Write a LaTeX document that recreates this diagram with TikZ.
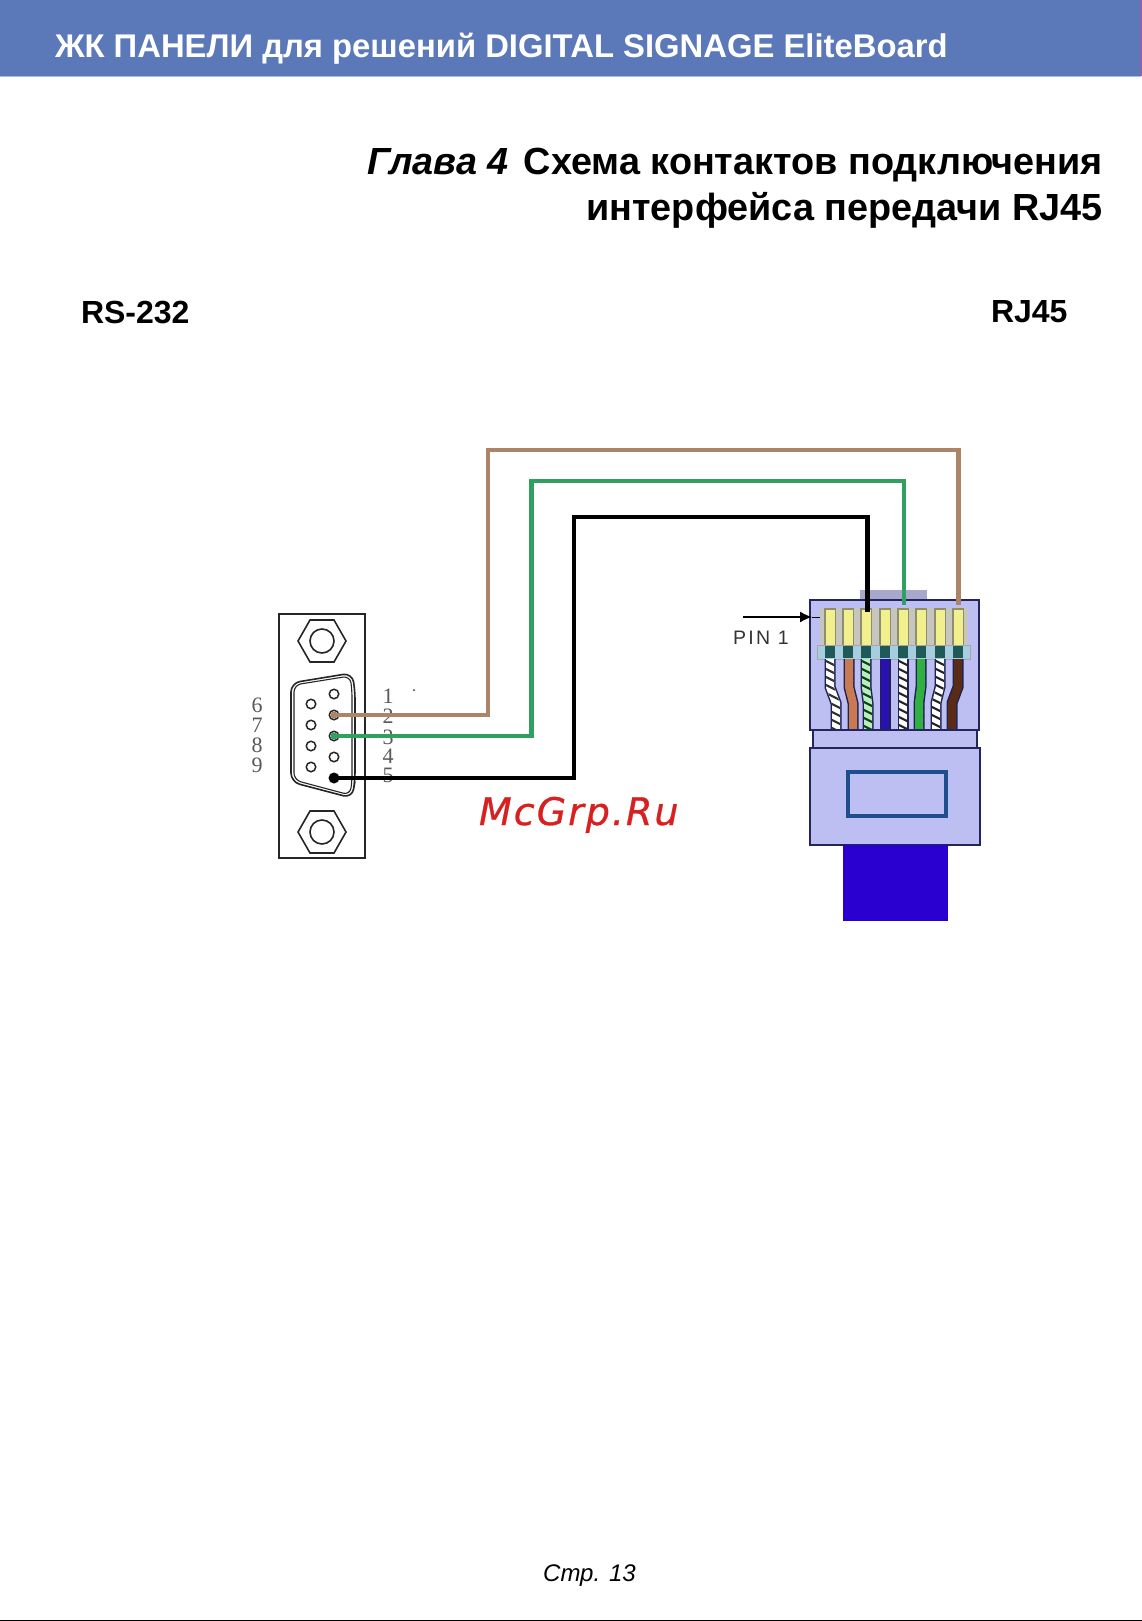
\documentclass[tikz,border=0pt]{standalone}
\usepackage{fontspec}
\setmainfont{Liberation Sans}
\newfontfamily\serifdigits{Liberation Serif}
\newfontfamily\wmfont[LetterSpace=5.3,FakeBold=0.7]{DejaVu Sans}
\newfontfamily\pinfont[LetterSpace=12]{Liberation Sans}
\usetikzlibrary{arrows.meta}
\definecolor{barblue}{HTML}{5B78B8}
\definecolor{wbrown}{HTML}{AC8468}
\definecolor{wgreen}{HTML}{2FA060}
\definecolor{plugfill}{HTML}{BDBFF2}
\definecolor{plugline}{HTML}{23265E}
\definecolor{windowline}{HTML}{1F4E8C}
\definecolor{cablefill}{HTML}{2A00D0}
\definecolor{pinyellow}{HTML}{F2F08C}
\definecolor{pinedge}{HTML}{8E8E6C}
\definecolor{pinback}{HTML}{C6C6BE}
\definecolor{bandblue}{HTML}{A8CCE0}
\definecolor{banddark}{HTML}{1E5A58}
\definecolor{orangew}{HTML}{C87A50}
\definecolor{bluew}{HTML}{2A10B0}
\definecolor{greenw}{HTML}{30B040}
\definecolor{brownw}{HTML}{5A2C18}
\definecolor{greenstripe}{HTML}{BFE8C8}
\definecolor{markred}{HTML}{D82020}
\tikzset{
  txt/.style={inner sep=0pt,outer sep=0pt,text=black},
  digit/.style={inner sep=0pt,font=\serifdigits\fontsize{22}{22}\selectfont,text=black!65},
  hole/.style={circle,draw=black!85,line width=1.5pt,fill=white,minimum size=9.5pt,inner sep=0pt},
  wire/.style={line width=4.5pt,line join=miter},
  conn/.style={draw=black!85,line width=1.6pt},
}
% centre top, centre bottom, body colour, stripe colour
\newcommand{\plugwire}[4]{%
  \draw[line width=11pt,plugline!90!black] (#1,659) -- (#1,687) -- (#2,703) -- (#2,730);
  \draw[line width=8pt,#3] (#1,659) -- (#1,687) -- (#2,703) -- (#2,730);
  \begin{scope}
    \clip (#1-4,659) -- (#1+4,659) -- (#1+4,687) -- (#2+4,703) -- (#2+4,730) -- (#2-4,730) -- (#2-4,703) -- (#1-4,687) -- cycle;
    \foreach \yy in {655,663,...,735}
      \draw[line width=2.2pt,#4] (#1-12,\yy-6) -- (#1+22,\yy+11);
  \end{scope}}
\newcommand{\hexnut}[2]{%
  \draw[conn] (#1-24,#2) -- (#1-12,#2-21) -- (#1+12,#2-21) -- (#1+24,#2) -- (#1+12,#2+21) -- (#1-12,#2+21) -- cycle;
  \draw[conn] (#1,#2) circle[radius=12];}
\begin{document}
\begin{tikzpicture}[x=1pt,y=-1pt]
\useasboundingbox (0,0) rectangle (1142,1621);
\fill[white] (0,0) rectangle (1142,1621);
% header
\fill[barblue] (0,0) rectangle (1141,76);
\fill[barblue!50!white] (0,76) rectangle (1141,77.5);
\fill[magenta!55!barblue] (1141,0) rectangle (1142,76);
\node[txt,anchor=base west,text=white,font=\bfseries\fontsize{32.8}{32.8}\selectfont] (head) at (55,58) {ЖК ПАНЕЛИ для решений DIGITAL SIGNAGE EliteBoard};
\node[txt,anchor=base east,font=\bfseries\fontsize{37.8}{37.8}\selectfont] (title1) at (1103,175) {\textit{Глава 4}\hspace{0.4em}Схема контактов подключения};
\node[txt,anchor=base east,font=\bfseries\fontsize{37.8}{37.8}\selectfont] (title2) at (1103,221) {интерфейса передачи RJ45};
\node[txt,anchor=base west,font=\bfseries\fontsize{32}{32}\selectfont] (rs) at (81,323) {RS-232};
\node[txt,anchor=base west,font=\bfseries\fontsize{32}{32}\selectfont] (rj) at (991,322) {RJ45};
\node[txt,anchor=base,font=\itshape\fontsize{24}{24}\selectfont] (page) at (589.5,1581) {Стр. 13};
\fill[black] (0,1619.5) rectangle (1142,1621);
% RS-232 connector
\draw[conn] (279,614) rectangle (365,858);
\hexnut{322}{641}
\hexnut{322}{832}
\draw[conn,rounded corners=9pt] (291,683) -- (352,673) -- (355,690) -- (355,781) -- (352,798) -- (291,782) -- cycle;
\draw[conn,line width=1.1pt,rounded corners=7pt] (294,685) -- (350,676) -- (352,690) -- (352,781) -- (350,795) -- (294,780) -- cycle;
\foreach \n/\yy in {1/694,2/715,3/736,4/757,5/778}
  \node[hole] (p\n) at (334,\yy) {};
\foreach \n/\yy in {6/704,7/725,8/746,9/767}
  \node[hole] (p\n) at (311,\yy) {};
\foreach \n/\yy in {1/696,2/716,3/737,4/756,5/775}
  \node[digit] (d\n) at (388,\yy) {\n};
\foreach \n/\yy in {6/705,7/725,8/745,9/765}
  \node[digit] (d\n) at (257,\yy) {\n};
\fill[black!80] (414,690) circle[radius=1];
% RJ45 plug
\fill[black!20!plugfill!85!white] (860,590) rectangle (927,600);
\draw[plugline,line width=2pt,fill=plugfill] (810,600) rectangle (979,730);
\fill[pinback] (820,608) rectangle (968,645);
\foreach \n/\xx in {1/830,2/848,3/866,4/885,5/903,6/921,7/940,8/958}{
  \fill[pinedge] (\xx-6,608) rectangle (\xx+6,645);
  \fill[pinyellow] (\xx-4.5,610) rectangle (\xx+4.5,645);
  \coordinate (pin\n) at (\xx,612);
}
\draw[black!35,line width=1pt,fill=bandblue] (817,645) rectangle (970,659);
\foreach \xx in {830,848,866,885,903,921,940,958}
  \fill[banddark] (\xx-5,646) rectangle (\xx+5,658);
\plugwire{830}{836}{white}{black!80}
\plugwire{849}{853}{orangew}{orangew}
\plugwire{866}{868}{greenstripe}{black!70!green}
\plugwire{885}{885}{bluew}{bluew}
\plugwire{903}{903}{white}{black!85}
\plugwire{921}{919}{greenw}{greenw}
\plugwire{940}{936}{white}{black!85}
\plugwire{958}{952}{brownw}{brownw}
\draw[plugline,line width=2pt] (810,730) -- (979,730);
\draw[plugline,line width=1.6pt,fill=plugfill] (813,730) rectangle (977,748);
\draw[plugline,line width=2pt,fill=plugfill] (810,748) rectangle (980,845);
\draw[windowline,line width=3.2pt] (848,772) rectangle (946,816);
\fill[cablefill] (843,845) rectangle (948,921);
% PIN 1
\coordinate (arrowstart) at (743,617);
\coordinate (arrowtip) at (812,617);
\coordinate (arrowend) at (820,617);
\draw[black,line width=1.4pt,-{Latex[length=12pt,width=11pt]}] (arrowstart) -- (arrowtip);
\draw[black,line width=1pt] (arrowtip) -- (arrowend);
\node[txt,anchor=base west,text=black!80,font=\pinfont\fontsize{19.5}{19.5}\selectfont] (pinlabel) at (733,644) {PIN\hspace{0.4em}1};
% wires
\coordinate (bA) at (488,715); \coordinate (bB) at (488,450); \coordinate (bC) at (958.5,450); \coordinate (bD) at (958.5,605);
\coordinate (gA) at (531.5,736); \coordinate (gB) at (531.5,481); \coordinate (gC) at (904,481); \coordinate (gD) at (904,605);
\coordinate (kA) at (574,778); \coordinate (kB) at (574,517); \coordinate (kC) at (867.5,517); \coordinate (kD) at (867.5,612);
\draw[wire,wbrown] (p2.center) -- (bA) -- (bB) -- (bC) -- (bD);
\draw[wire,wgreen] (p3.center) -- (gA) -- (gB) -- (gC) -- (gD);
\draw[wire,black] (p5.center) -- (kA) -- (kB) -- (kC) -- (kD);
\fill[wbrown] (p2.center) circle[radius=3.5];
\fill[wgreen] (p3.center) circle[radius=3.5];
\fill[black] (p5.center) circle[radius=5];
% watermark
\node[txt,anchor=base west,text=markred,font=\wmfont\itshape\fontsize{38}{38}\selectfont] (mark) at (479,825) {McGrp.Ru};
\end{tikzpicture}
\end{document}
